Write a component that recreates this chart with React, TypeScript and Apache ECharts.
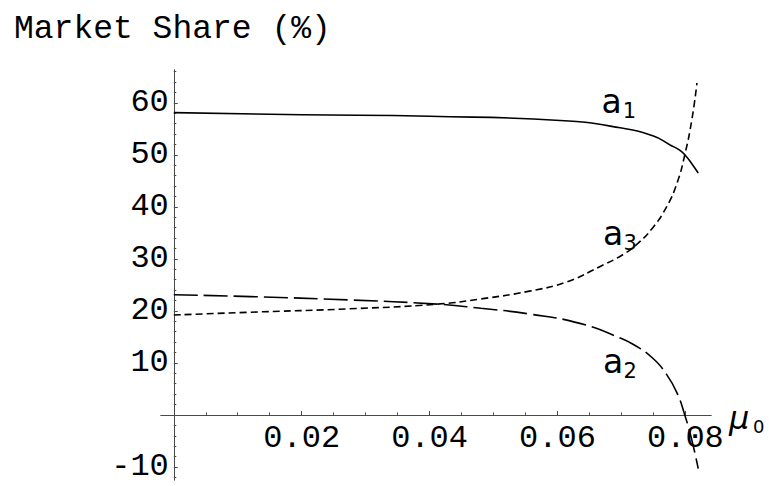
import React, { useEffect, useRef } from "react";
import * as echarts from "echarts";

// ---- data ----
const a1X = [0, 0.02, 0.04, 0.0604, 0.0698, 0.075, 0.0776, 0.0791, 0.0799, 0.081, 0.082];
const a1Y = [58.1, 57.7, 57.4, 56.6, 55.2, 53.6, 51.9, 50.9, 50.0, 48.3, 46.5];

const a2X = [0, 0.012, 0.0275, 0.0412, 0.048, 0.0556, 0.0635, 0.0698, 0.0718, 0.0749, 0.0771, 0.0787, 0.0799, 0.081, 0.082];
const a2Y = [23.1, 22.75, 22.1, 21.3, 20.5, 19.4, 17.6, 14.8, 13.6, 10.9, 7.7, 4.2, 0, -4.8, -10.3];

const a3X = [0, 0.012, 0.0275, 0.0412, 0.048, 0.0556, 0.0615, 0.0666, 0.0702, 0.0724, 0.0749, 0.0771, 0.0787, 0.0799, 0.081, 0.0818];
const a3Y = [19.2, 19.75, 20.4, 21.3, 22.3, 23.8, 25.6, 28.5, 30.8, 32.8, 36.0, 40.1, 44.6, 50.0, 56.7, 63.8];

const xMajorTicks = [0.02, 0.04, 0.06, 0.08];
const xMinorTicks = [0.005, 0.01, 0.015, 0.025, 0.03, 0.035, 0.045, 0.05, 0.055, 0.065, 0.07, 0.075];
const yMajorTicks = [-10, 10, 20, 30, 40, 50, 60];
const yMinorTicks = [-12, -8, -6, -4, -2, 2, 4, 6, 8, 12, 14, 16, 18, 22, 24, 26, 28, 32, 34, 36, 38, 42, 44, 46, 48, 52, 54, 56, 58, 62, 64, 66];

const X_MIN = -0.002;
const X_MAX = 0.084;
const Y_MIN = -12.5;
const Y_MAX = 66.3;

const TITLE = "Market Share (%)";
const SERIES_LABELS = [
  { name: "a", sub: "1" },
  { name: "a", sub: "2" },
  { name: "a", sub: "3" },
];
const X_NAME = { name: "μ", sub: "0" };

const pairs = (xs: number[], ys: number[]) => xs.map((x, i) => [x, ys[i]]);

// plot rectangle (layout)
const G_LEFT = 161;
const G_RIGHT_EDGE = 711;
const G_TOP = 70;
const G_BOTTOM_EDGE = 480;
const W = 769;
const H = 486;

export default function App() {
  const ref = useRef<HTMLDivElement>(null);
  useEffect(() => {
    document.body.style.margin = "0";
    const chart = echarts.init(ref.current!, null, { renderer: "svg" });
    const mono = "'Liberation Mono', 'Courier New', monospace";
    const sans = "'DejaVu Sans', sans-serif";
    const axisColor = "#4a4a4a";
    // offsets that move the axes onto the other axis' zero
    const pxPerX = (G_RIGHT_EDGE - G_LEFT) / (X_MAX - X_MIN);
    const pxPerY = (G_BOTTOM_EDGE - G_TOP) / (Y_MAX - Y_MIN);
    const xAxisOffset = -(0 - Y_MIN) * pxPerY;
    const yAxisOffset = -(0 - X_MIN) * pxPerX;
    const axisLine = { show: true, onZero: false, lineStyle: { color: axisColor, width: 1 } };
    const lineSeries = (data: number[][], type: any, name: string) => ({
      type: "line",
      name,
      data,
      xAxisIndex: 0,
      yAxisIndex: 0,
      showSymbol: false,
      symbol: "none",
      smooth: 0.5,
      clip: false,
      lineStyle: { color: "#000", width: 1.6, type },
      silent: true,
    });
    const gtext = (text: string, x: number, y: number, size: number, family: string, style: any = {}) => ({
      type: "text",
      x,
      y,
      silent: true,
      style: {
        text,
        fill: "#000",
        fontSize: size,
        fontFamily: family,
        align: "left",
        verticalAlign: "middle",
        ...style,
      },
    });
    const xBase = {
      type: "value",
      min: X_MIN,
      max: X_MAX,
      position: "bottom",
      offset: xAxisOffset,
      axisLine,
      splitLine: { show: false },
    };
    const yBase = {
      type: "value",
      min: Y_MIN,
      max: Y_MAX,
      position: "left",
      offset: yAxisOffset,
      axisLine,
      splitLine: { show: false },
    };
    chart.setOption({
      animation: false,
      grid: {
        left: G_LEFT,
        right: W - G_RIGHT_EDGE,
        top: G_TOP,
        bottom: H - G_BOTTOM_EDGE,
        containLabel: false,
        outerBoundsMode: "none",
      },
      xAxis: [
        {
          ...xBase,
          axisTick: { show: true, inside: true, length: 4, customValues: xMajorTicks, lineStyle: { color: axisColor } },
          axisLabel: {
            show: true,
            customValues: xMajorTicks,
            formatter: (v: number) => v.toFixed(2),
            fontFamily: mono,
            fontSize: 32,
            color: "#000",
            margin: 8,
          },
        },
        {
          ...xBase,
          axisTick: { show: true, inside: true, length: 2.5, customValues: xMinorTicks, lineStyle: { color: axisColor } },
          axisLabel: { show: false },
        },
      ],
      yAxis: [
        {
          ...yBase,
          axisTick: { show: true, inside: true, length: 4, customValues: yMajorTicks, lineStyle: { color: axisColor } },
          axisLabel: {
            show: true,
            customValues: yMajorTicks,
            formatter: (v: number) => String(v),
            fontFamily: mono,
            fontSize: 32,
            color: "#000",
            margin: 5,
          },
        },
        {
          ...yBase,
          axisTick: { show: true, inside: true, length: 2.5, customValues: yMinorTicks, lineStyle: { color: axisColor } },
          axisLabel: { show: false },
        },
      ],
      series: [
        lineSeries(pairs(a1X, a1Y), "solid", "a1"),
        lineSeries(pairs(a2X, a2Y), [24, 6], "a2"),
        lineSeries(pairs(a3X, a3Y), [7, 4], "a3"),
      ],
      graphic: [
        gtext(TITLE, 14, 29.5, 33, mono),
        gtext(SERIES_LABELS[0].name, 601.5, 101.3, 33, sans),
        gtext(SERIES_LABELS[0].sub, 622.7, 111, 21, sans),
        gtext(SERIES_LABELS[1].name, 603, 361.9, 33, sans),
        gtext(SERIES_LABELS[1].sub, 623.5, 371, 21, sans),
        gtext(SERIES_LABELS[2].name, 603, 233.6, 33, sans),
        gtext(SERIES_LABELS[2].sub, 623.5, 242.7, 21, sans),
        gtext(X_NAME.name, 729, 417.5, 32, sans, { fontStyle: "italic" }),
        gtext(X_NAME.sub, 753, 426, 18, sans),
      ],
    });
    return () => chart.dispose();
  }, []);
  return <div ref={ref} style={{ width: W, height: H }} />;
}
